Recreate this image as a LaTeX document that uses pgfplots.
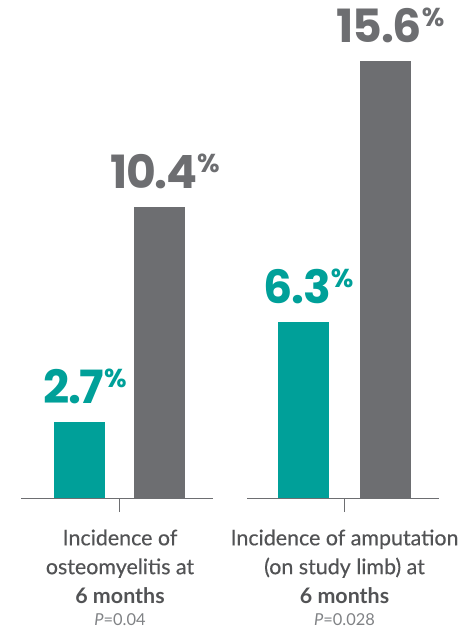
\documentclass[border=0pt]{standalone}
\usepackage{pgfplots}
\pgfplotsset{compat=1.18}
\usepackage{fontspec}
\setmainfont{Lato}
\newfontfamily\labelfont{Lato}[FakeBold=0.35]
\newfontfamily\numfont{Poppins}[LetterSpace=-3]

\definecolor{teal}{RGB}{0,160,153}
\definecolor{bargray}{RGB}{109,110,113}
\definecolor{txtgray}{RGB}{82,83,85}
\definecolor{pgray}{RGB}{128,130,133}

\pgfplotsset{
  riskbars/.style={
    scale only axis,
    width=192bp, height=498bp,
    ymin=0, ymax=17.786,
    axis y line=none,
    axis x line*=bottom,
    x axis line style={draw=bargray, line width=1bp, -},
    xtick={0},
    tick align=outside,
    major tick length=14bp,
    xtick style={draw=bargray, line width=1bp},
    xticklabel style={align=center, text=txtgray,
      font=\labelfont\fontsize{21.5}{29}\selectfont, anchor=north, yshift=-14bp},
    bar width=51bp,
    clip=false,
    point meta=y,
    nodes near coords={\numfont\bfseries\pgfmathprintnumber[fixed,precision=1,fixed zerofill,assume math mode=true]{\pgfplotspointmeta}\raisebox{16bp}{\fontsize{26}{26}\selectfont\%}},
    every node near coord/.append style={font=\fontsize{46}{46}\selectfont,
      anchor=south, inner sep=0pt, yshift=18bp, xshift=5bp},
  },
}

\begin{document}
\begin{tikzpicture}
\useasboundingbox (0,0) rectangle (476bp,630bp);

% Osteomyelitis at 6 months
\begin{axis}[riskbars, at={(21bp,132bp)}, anchor=south west,
    xmin=-99, xmax=93, ybar=29bp,
    xticklabels={{Incidence of\\osteomyelitis at\\{\normalfont\bfseries 6 months}\\[-6bp]{\normalfont\fontsize{16.5}{20}\selectfont\color{pgray}\textit{P}=0.04}}}]
  \addplot[fill=teal, draw=none, nodes near coords style={text=teal}] coordinates {(0,2.7)};
  \addplot[fill=bargray, draw=none, nodes near coords style={text=bargray}] coordinates {(0,10.4)};
\end{axis}

% Amputation at 6 months
\begin{axis}[riskbars, at={(247bp,132bp)}, anchor=south west,
    xmin=-97, xmax=94, ybar=31bp,
    xticklabels={{Incidence of amputation\\(on study limb) at\\{\normalfont\bfseries 6 months}\\[-6bp]{\normalfont\fontsize{16.5}{20}\selectfont\color{pgray}\textit{P}=0.028}}}]
  \addplot[fill=teal, draw=none, nodes near coords style={text=teal}] coordinates {(0,6.3)};
  \addplot[fill=bargray, draw=none, nodes near coords style={text=bargray}] coordinates {(0,15.6)};
\end{axis}
\end{tikzpicture}
\end{document}
